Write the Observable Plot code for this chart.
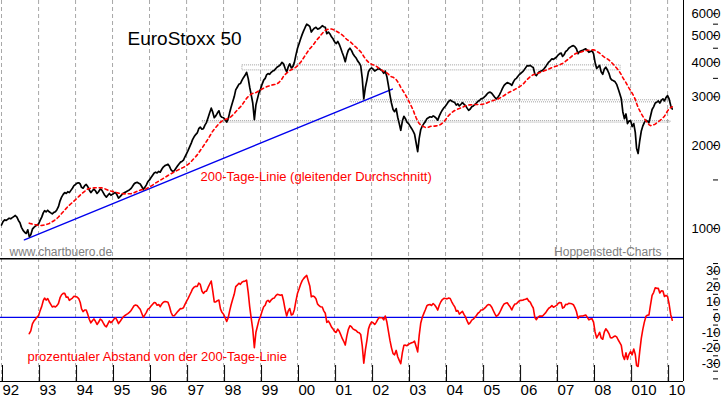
<!DOCTYPE html>
<html>
<head>
<meta charset="utf-8">
<script src="https://cdn.jsdelivr.net/npm/d3@7"></script>
<script src="https://cdn.jsdelivr.net/npm/@observablehq/plot@0.6"></script>
<style>
  html, body { margin: 0; padding: 0; background: #fff; }
  #chart { width: 723px; height: 397px; overflow: hidden; }
  #chart svg { display: block; }
</style>
</head>
<body>
<div id="chart"></div>
<script>
// ---- EuroStoxx 50, half-monthly closes (1st and 16th of each month) ----
const p1992 = [1030,1060,1075,1070,1080,1090,1085,1095,1105,1115,1100,1070,1050,1010,985,970,960,990,935,950,995,1010,1020,1030];
const p1993 = [1040,1070,1100,1140,1160,1150,1165,1150,1140,1130,1145,1150,1170,1200,1260,1300,1330,1350,1340,1360,1350,1375,1400,1430];
const p1994 = [1445,1460,1465,1450,1410,1400,1430,1445,1420,1380,1350,1370,1390,1370,1340,1360,1390,1380,1350,1320,1300,1320,1340,1320];
const p1995 = [1330,1345,1350,1320,1290,1305,1325,1340,1350,1360,1370,1380,1395,1420,1450,1465,1470,1460,1450,1420,1385,1410,1440,1480];
const p1996 = [1500,1530,1560,1590,1600,1590,1610,1600,1640,1670,1690,1700,1710,1680,1630,1610,1620,1650,1680,1710,1740,1750,1770,1820];
const p1997 = [1870,1920,1980,2040,2100,2150,2190,2220,2300,2330,2290,2300,2370,2420,2520,2620,2730,2640,2520,2560,2620,2670,2560,2530];
const p1998 = [2520,2480,2430,2500,2620,2750,2880,3000,3180,3250,3330,3350,3440,3520,3590,3680,3500,3250,3050,2850,2480,2800,2950,3100];
const p1999 = [3200,3330,3450,3500,3600,3640,3620,3680,3720,3740,3800,3850,3880,3920,4000,3950,3800,3690,3850,3950,3820,3860,4000,4250];
const p2000 = [4500,4670,4870,5050,5200,5350,5500,5450,5400,5150,5250,5320,5360,5280,5300,5350,5430,5380,5360,5080,5150,5070,4950,4870];
const p2001 = [4750,4680,4760,4650,4520,4350,4200,4020,4250,4420,4500,4420,4300,4220,4150,4050,3980,3880,3500,2950,3250,3450,3700,3780];
const p2002 = [3820,3780,3720,3750,3780,3800,3760,3730,3650,3720,3550,3300,3050,2850,2700,2650,2720,2530,2400,2270,2450,2550,2500,2430];
const p2003 = [2400,2350,2300,2250,2200,2050,1900,2120,2280,2350,2400,2440,2500,2520,2540,2530,2560,2540,2510,2470,2560,2630,2690,2740];
const p2004 = [2780,2830,2890,2920,2900,2880,2860,2800,2830,2780,2820,2860,2820,2790,2730,2680,2710,2760,2780,2810,2850,2890,2910,2950];
const p2005 = [2960,2990,3030,3080,3110,3120,3090,3040,2990,2950,2990,3050,3130,3220,3300,3340,3380,3360,3340,3300,3400,3470,3500,3560];
const p2006 = [3620,3660,3700,3760,3820,3890,3880,3900,3860,3830,3620,3580,3650,3700,3720,3740,3800,3860,3940,4010,4060,4120,4100,4140];
const p2007 = [4180,4250,4300,4320,4200,4260,4380,4420,4500,4540,4580,4600,4560,4480,4300,4380,4400,4420,4450,4480,4420,4350,4380,4400];
const p2008 = [4300,4000,3800,3850,3900,3700,3620,3780,3840,3760,3650,3500,3450,3430,3400,3330,3200,3080,2950,2650,2500,2600,2400,2450];
const p2009 = [2460,2340,2400,2230,1950,1870,2080,2250,2350,2420,2470,2450,2420,2550,2700,2760,2850,2870,2900,2850,2920,2950,2900,2980];
const p2010 = [3030,2950,2790,2710];
const priceYears = [1992,1993,1994,1995,1996,1997,1998,1999,2000,2001,2002,2003,2004,2005,2006,2007,2008,2009,2010];
const priceByYear = [p1992,p1993,p1994,p1995,p1996,p1997,p1998,p1999,p2000,p2001,p2002,p2003,p2004,p2005,p2006,p2007,p2008,p2009,p2010];

// 200-day line = moving average over ~19 half-month points
const maWindow = 19;

// blue trend line
const trendDates = ["1992-08-14", "2002-07-25"];
const trendValues = [910, 3200];

// gray horizontal bands
const bandStart = ["1998-07-06", "2001-06-08", "1997-06-08"];
const bandEnd   = ["2008-09-24", "2010-01-30", "2010-01-30"];
const bandLow   = [3740, 2865, 2420];
const bandHigh  = [3900, 2915, 2450];

// axes
const yearTicks  = [1992,1993,1994,1995,1996,1997,1998,1999,2000,2001,2002,2003,2004,2005,2006,2007,2008,2009,2010];
const yearLabels = ["92","93","94","95","96","97","98","99","00","01","02","03","04","05","06","07","08","010","10"];
const priceTicks      = [1000,1500,2000,3000,3500,4000,4500,5000,5500,6000];
const priceTickLabels = ["1000","","2000","3000","","4000","","5000","","6000"];
const devTicks      = [-40,-35,-30,-25,-20,-15,-10,-5,0,5,10,15,20,25,30,35];
const devTickLabels = ["","","-30","","-20","","-10","","0","","10","","20","","30",""];

// texts
const titleText = "EuroStoxx 50";
const maText = "200-Tage-Linie (gleitender Durchschnitt)";
const sourceText = "www.chartbuero.de";
const creditText = "Hoppenstedt-Charts";
const devText = "prozentualer Abstand von der 200-Tage-Linie";

// ---- build tables ----
const series = [];
priceByYear.forEach((arr, k) => arr.forEach((v, i) => {
  series.push({date: new Date(Date.UTC(priceYears[k], Math.floor(i / 2), i % 2 ? 16 : 1)), price: v});
}));
series.forEach((d, i) => {
  if (i >= maWindow - 1) {
    d.ma = d3.mean(series.slice(i - maWindow + 1, i + 1), e => e.price);
    d.dev = (d.price / d.ma - 1) * 100;
  }
});
const maSeries = series.filter(d => d.ma != null);
const trend = trendDates.map((t, i) => ({date: new Date(t), value: trendValues[i]}));
const bands = bandStart.map((s, i) => ({x1: new Date(s), x2: new Date(bandEnd[i]), y1: bandLow[i], y2: bandHigh[i]}));
const yearDates = yearTicks.map(y => new Date(Date.UTC(y, 0, 1)));
const yearLabelOf = new Map(yearTicks.map((y, i) => [y, yearLabels[i]]));
const priceLabelOf = new Map(priceTicks.map((v, i) => [v, priceTickLabels[i]]));
const devLabelOf = new Map(devTicks.map((v, i) => [v, devTickLabels[i]]));

const xDomain = [new Date(Date.UTC(1991, 11, 22)), new Date(Date.UTC(2010, 5, 7))];
const font = "'Liberation Sans', Arial, sans-serif";
const gridStyle = {stroke: "#a8a8a8", strokeDasharray: "4,3", strokeWidth: 1};

const topChart = Plot.plot({
  width: 723, height: 258,
  marginLeft: 0, marginRight: 40, marginTop: 0, marginBottom: 0,
  style: {fontFamily: font, background: "white"},
  x: {type: "utc", domain: xDomain, axis: null},
  y: {type: "log", domain: [779, 6700], label: null},
  marks: [
    Plot.ruleX(yearDates, gridStyle),
    Plot.rect(bands, {x1: "x1", x2: "x2", y1: "y1", y2: "y2", fill: "none", stroke: "#a0a0a0", strokeWidth: 1, strokeDasharray: "1,1"}),
    Plot.line(trend, {x: "date", y: "value", stroke: "#0000ee", strokeWidth: 1.4}),
    Plot.line(series, {x: "date", y: "price", stroke: "black", strokeWidth: 1.7}),
    Plot.line(maSeries, {x: "date", y: "ma", stroke: "#ff0000", strokeWidth: 1.6, strokeDasharray: "3,3"}),
    Plot.ruleX([xDomain[1]], {stroke: "black", strokeWidth: 1}),
    Plot.axisY(priceTicks, {anchor: "right", label: null, tickSize: 5, tickPadding: 3, textAnchor: "end", dx: 29, fontSize: 13, fill: "black", tickFormat: d => priceLabelOf.get(d)}),
    Plot.text([titleText], {frameAnchor: "top-left", dx: 127, dy: 31, text: d => d, textAnchor: "start", fontSize: 19, fill: "black"}),
    Plot.text([maText], {frameAnchor: "top-left", dx: 200, dy: 171, text: d => d, textAnchor: "start", fontSize: 13, fill: "#ff0000"}),
    Plot.text([sourceText], {frameAnchor: "top-left", dx: 9, dy: 247, text: d => d, textAnchor: "start", fontSize: 12, fill: "#808080"}),
    Plot.text([creditText], {frameAnchor: "top-right", dx: -22, dy: 247, text: d => d, textAnchor: "end", fontSize: 12, fill: "#808080"})
  ]
});

const bottomChart = Plot.plot({
  width: 723, height: 139,
  marginLeft: 0, marginRight: 40, marginTop: 0, marginBottom: 16,
  style: {fontFamily: font, background: "white"},
  x: {type: "utc", domain: xDomain, label: null},
  y: {domain: [-41.7, 38.3], label: null},
  marks: [
    Plot.ruleX(yearDates, gridStyle),
    Plot.ruleY([0], {stroke: "#0000ee", strokeWidth: 1.4}),
    Plot.line(maSeries, {x: "date", y: "dev", stroke: "#ff0000", strokeWidth: 1.6}),
    Plot.ruleY([38.3], {stroke: "black", strokeWidth: 2}),
    Plot.ruleY([-41.7], {stroke: "black", strokeWidth: 1.2}),
    Plot.ruleX([xDomain[1]], {stroke: "black", strokeWidth: 1}),
    Plot.axisY(devTicks, {anchor: "right", label: null, tickSize: 5, tickPadding: 3, textAnchor: "end", dx: 29, fontSize: 13, fill: "black", tickFormat: d => devLabelOf.get(d)}),
    Plot.axisX(yearDates, {anchor: "bottom", label: null, tickSize: 16, tickPadding: 3, textAnchor: "start", dx: 1, dy: -16, fontSize: 15, fill: "black", tickFormat: d => yearLabelOf.get(d.getUTCFullYear())}),
    Plot.text([devText], {frameAnchor: "bottom-left", dx: 27, dy: -21, text: d => d, textAnchor: "start", fontSize: 13, fill: "#ff0000"})
  ]
});

const el = document.getElementById("chart");
el.appendChild(topChart);
el.appendChild(bottomChart);
</script>
</body>
</html>
